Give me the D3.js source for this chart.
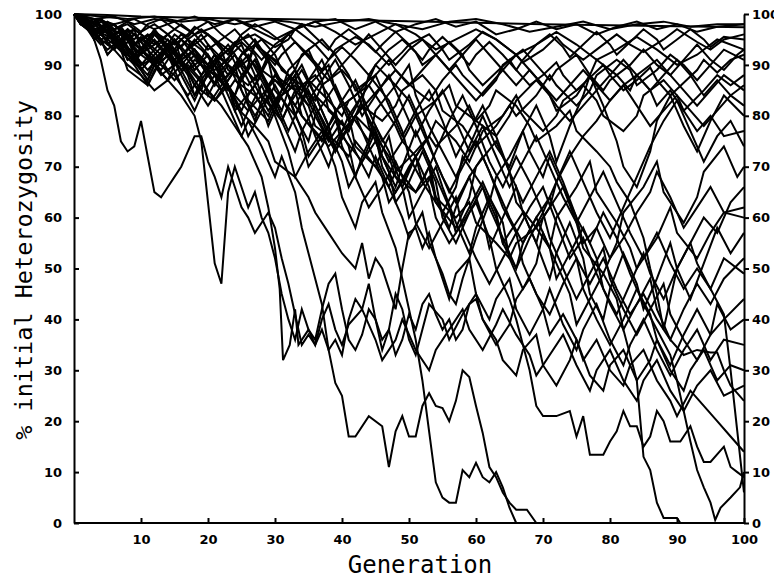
<!doctype html>
<html lang='en'>
<head>
    <meta charset='utf-8'>
    <title>Heterozygosity</title>
    <script src='https://cdn.jsdelivr.net/npm/d3@7'></script>
    <style>
        body { margin: 0; background: white; }
        .run { fill: none; stroke: black; stroke-width: 2px; stroke-linejoin: miter; }
        .axis path, .axis line { stroke: black; stroke-width: 2px; }
        .axis text { font-family: 'DejaVu Sans'; font-weight: bold; font-size: 13px; fill: black; }
        .title { font-family: 'DejaVu Sans Mono'; font-size: 24px; fill: black; }
    </style>
</head>
<body>
<svg id='chart' width='774' height='578'></svg>
<script>
    // each run: [generation, % initial heterozygosity]
    const run01 = [[0,100],[5,99.8],[10,99.5],[20,99.2],[30,99],[40,98.8],[50,98.6],[60,98.3],[70,98],[80,97.8],[90,97.6],[100,97.4]];
    const run02 = [[0,100],[3,99],[6,99.5],[9,98],[12,99],[15,98.5],[18,99.5],[21,98],[24,99],[27,97.5],[30,98.5],[33,97],[36,98.5],[39,99],[42,97],[45,98.5],[48,96.5],[51,98],[54,99],[57,97.5],[60,98.5],[63,96],[66,97],[69,98.5],[72,97],[75,98],[78,96],[81,97.5],[84,98.5],[87,97],[90,98],[93,96.5],[96,97.5],[100,98]];
    const run03 = [[0,100],[1,99],[3,97.5],[4,98.5],[7,96],[9,97],[11,95],[12,96.5],[15,94],[17,96],[18,97.5],[21,95],[23,93],[24,94.5],[27,96],[30,93.5],[32,95],[33,97],[36,94],[38,91],[39,93],[42,95.5],[44,94],[47,90],[49,92.5],[50,94],[53,96],[55,93],[56,91],[59,94],[61,96.5],[63,95],[66,92],[67,90.5],[70,93],[72,95.5],[73,94],[76,91],[78,93],[81,96],[83,94],[85,92.5],[88,95],[90,97],[93,94.5],[95,93],[97,95],[100,96]];
    const run04 = [[0,100],[2,98.5],[3,99],[5,96.5],[7,97.5],[9,94],[10,95.5],[13,92],[15,94.5],[16,96],[19,93],[21,90],[22,92],[25,94.5],[27,92],[28,89],[31,86],[33,89],[34,92],[37,95],[39,92],[41,88],[42,85],[45,88],[47,91],[48,89],[51,85],[53,83],[55,87],[57,90],[58,88],[61,84],[63,87],[64,90],[67,93],[69,90],[71,87],[72,89],[75,92],[77,88],[79,85],[80,87],[83,90],[85,93],[87,90],[89,88],[91,91],[93,94],[95,91],[97,89],[99,92],[100,93]];
    const run05 = [[0,100],[1,98],[3,96],[4,97.5],[6,95],[8,92],[9,94],[12,96.5],[14,93],[15,91],[18,94],[20,96],[22,93],[23,89],[26,86],[28,89],[29,92],[32,88],[34,85],[35,87],[38,83],[40,80],[41,83],[44,86],[46,82],[48,78],[49,75],[51,72],[53,76],[54,79],[57,75],[59,71],[60,74],[63,78],[65,82],[66,80],[69,84],[71,88],[72,86],[75,82],[77,85],[78,88],[81,91],[83,89],[84,86],[87,89],[89,92],[91,90],[93,87],[95,90],[97,93],[100,91]];
    const run06 = [[0,100],[2,98],[3,96],[5,97],[7,94],[8,91],[10,93],[12,90],[13,88],[16,91],[18,93],[19,90],[22,87],[24,89],[25,92],[28,95],[30,92],[31,89],[34,86],[36,83],[37,86],[40,89],[42,86],[43,82],[46,79],[48,82],[49,85],[52,88],[54,85],[55,81],[58,78],[60,74],[61,77],[64,80],[66,84],[67,81],[70,77],[72,80],[73,83],[76,86],[78,83],[79,80],[82,77],[84,80],[85,84],[88,87],[90,84],[91,81],[94,85],[96,88],[98,86],[100,88]];
    const run07 = [[0,100],[1,99],[3,97],[5,98],[6,95],[9,92],[11,94],[12,96],[15,93],[17,89],[18,91],[21,88],[23,85],[24,87],[27,84],[29,80],[30,83],[33,86],[35,82],[36,78],[39,75],[41,72],[42,75],[45,70],[47,66],[48,69],[51,73],[53,76],[54,74],[57,78],[59,82],[60,79],[63,76],[65,80],[66,83],[69,87],[71,84],[72,81],[75,84],[77,88],[78,91],[81,88],[83,85],[84,88],[87,91],[89,88],[91,85],[93,82],[95,85],[97,88],[100,85]];
    const run08 = [[0,100],[2,99],[3,97],[6,98],[8,95],[9,92],[12,96],[14,93],[15,90],[18,95],[20,92],[21,88],[24,84],[26,90],[27,94],[30,89],[32,84],[33,80],[35,86],[38,90],[39,85],[42,79],[44,75],[45,81],[48,86],[50,90],[51,84],[53,78],[55,73],[57,68],[59,74],[61,80],[63,74],[65,70],[67,77],[69,82],[71,76],[72,71],[74,78],[76,84],[77,88],[79,82],[81,75],[82,70],[84,66],[86,73],[87,79],[89,84],[91,78],[93,73],[95,79],[97,84],[100,80]];
    const run09 = [[0,100],[1,98],[3,99],[5,96.5],[6,94],[9,96],[11,93],[12,90],[15,92.5],[17,95],[18,92],[21,89],[23,91],[24,94],[27,90],[29,86],[30,88],[33,85],[35,82],[36,84],[39,80],[41,77],[42,80],[45,76],[47,72],[48,68],[51,65],[53,68],[54,64],[57,60],[59,63],[60,59],[63,55],[65,52],[66,55],[69,58],[71,62],[72,67],[74,72],[76,76],[78,79],[80,83],[82,86],[84,88],[86,85],[87,82],[89,85],[91,81],[93,77],[95,80],[97,76],[100,77]];
    const run10 = [[0,100],[2,98],[3,95],[5,97],[7,93],[8,89],[11,86],[13,91],[14,94],[17,89],[19,85],[20,89],[23,93],[25,88],[26,83],[29,79],[31,85],[32,89],[35,93],[37,87],[38,81],[41,77],[43,83],[44,88],[47,83],[49,77],[50,72],[52,67],[54,73],[56,79],[58,84],[60,78],[62,71],[64,66],[66,72],[68,67],[70,61],[72,67],[74,73],[76,67],[78,61],[80,56],[82,62],[84,68],[86,74],[88,79],[90,83],[92,77],[94,71],[96,76],[98,79],[100,74]];
    const run11 = [[0,100],[1,99],[3,96],[4,97.5],[7,94],[9,97],[10,93],[13,89],[15,93],[16,95],[19,90],[21,86],[22,90],[25,94],[27,88],[28,84],[31,79],[33,85],[34,80],[37,75],[39,81],[40,76],[43,71],[45,77],[46,72],[49,66],[51,72],[52,67],[55,61],[57,66],[58,72],[61,66],[63,60],[64,55],[67,61],[69,55],[70,60],[73,66],[75,59],[76,54],[79,49],[81,55],[82,61],[85,66],[87,71],[88,65],[91,59],[93,64],[94,69],[97,74],[99,68],[100,70]];
    const run12 = [[0,100],[2,98.5],[3,97],[6,95],[8,97],[9,94],[12,91],[14,94],[15,96],[18,93],[20,90],[21,92],[24,89],[26,91],[27,94],[30,91],[32,88],[33,85],[36,88],[38,84],[39,81],[42,84],[44,87],[45,90],[48,86],[50,83],[51,80],[54,83],[56,86],[57,82],[60,79],[62,82],[63,85],[66,82],[68,78],[69,75],[72,78],[74,81],[75,77],[78,73],[80,70],[81,67],[83,63],[85,56],[86,50],[87,45],[88,38],[89,44],[90,50],[92,55],[94,60],[96,57],[98,63],[100,66]];
    const run13 = [[0,100],[1,98],[3,96],[5,97.5],[6,94],[9,90],[11,95],[12,97],[15,92],[17,88],[18,84],[21,90],[23,86],[24,81],[27,86],[29,91],[30,85],[33,80],[35,75],[36,80],[39,86],[41,80],[42,74],[45,70],[47,76],[48,70],[51,65],[53,70],[54,63],[57,58],[59,64],[60,70],[63,75],[65,69],[66,63],[69,58],[71,54],[72,60],[75,66],[77,71],[78,65],[81,59],[83,54],[84,50],[87,56],[89,62],[90,57],[93,52],[95,57],[97,61],[100,62]];
    const run14 = [[0,100],[2,98],[3,96],[5,93],[7,95],[8,97],[11,94],[13,91],[14,89],[17,92],[19,88],[20,84],[22,89],[24,92],[26,87],[28,82],[29,78],[31,84],[33,88],[34,83],[36,76],[38,70],[39,74],[41,80],[43,84],[44,78],[46,72],[48,66],[49,70],[51,77],[53,71],[54,64],[56,58],[57,62],[59,68],[61,60],[62,54],[64,60],[66,66],[67,61],[69,55],[71,48],[72,53],[74,59],[76,52],[77,45],[79,40],[80,46],[82,53],[84,47],[85,42],[87,48],[89,55],[90,50],[92,44],[94,51],[96,58],[98,53],[100,57]];
    const run15 = [[0,100],[1,98],[3,97],[4,95],[7,96.5],[9,93],[10,90],[13,92],[15,95],[16,91],[18,86],[20,82],[22,86],[24,90],[25,85],[27,79],[28,83],[30,88],[32,84],[34,77],[35,72],[37,76],[39,80],[40,74],[42,68],[43,72],[45,78],[47,73],[49,66],[50,60],[52,65],[54,70],[55,66],[57,59],[59,53],[60,58],[62,64],[64,59],[65,52],[67,46],[69,51],[70,57],[72,51],[74,45],[75,39],[77,44],[79,49],[81,44],[82,38],[84,43],[86,48],[87,42],[89,36],[91,42],[93,47],[95,43],[97,48],[100,52]];
    const run16 = [[0,100],[2,99],[3,97],[6,94],[8,96],[9,93],[12,90],[14,87],[15,90],[18,93],[20,89],[21,86],[23,90],[25,85],[27,80],[29,84],[31,79],[33,73],[34,77],[36,82],[38,77],[40,71],[41,66],[43,71],[45,75],[47,69],[48,63],[50,67],[52,73],[54,67],[55,60],[57,55],[59,61],[61,66],[62,62],[64,56],[66,50],[67,55],[69,60],[71,54],[72,48],[74,53],[76,58],[78,52],[79,46],[81,41],[83,47],[85,53],[86,49],[88,44],[90,50],[92,55],[93,51],[95,46],[97,52],[100,49]];
    const run17 = [[0,100],[1,98],[3,96],[5,97],[6,94],[9,91],[11,88],[12,91],[15,88],[17,84],[19,88],[21,92],[23,86],[25,80],[26,76],[28,81],[30,86],[32,81],[34,75],[35,70],[37,74],[39,79],[41,74],[42,68],[44,62],[46,66],[48,71],[50,65],[51,59],[53,54],[55,59],[57,64],[58,58],[60,52],[62,47],[64,52],[66,57],[67,51],[69,45],[71,41],[73,47],[75,52],[76,46],[78,40],[80,35],[82,40],[84,46],[86,41],[87,36],[89,31],[91,37],[93,42],[95,37],[97,40],[100,44]];
    const run18 = [[0,100],[2,97],[3,95],[5,97],[7,94],[8,91],[11,93],[13,95],[14,92],[17,89],[19,91],[20,94],[23,90],[25,87],[27,91],[29,86],[31,81],[32,85],[34,89],[36,84],[38,78],[39,73],[41,78],[43,82],[45,76],[46,70],[48,65],[50,70],[52,74],[54,68],[56,62],[57,57],[59,62],[61,67],[63,61],[64,55],[66,50],[68,56],[70,61],[71,56],[73,50],[75,44],[77,49],[79,54],[80,48],[82,42],[84,37],[86,42],[88,47],[89,41],[91,36],[93,32],[95,37],[96,43],[98,38],[100,40]];
    const run19 = [[0,100],[1,99],[3,96],[5,97.5],[6,94],[9,91],[11,94],[12,96],[15,92],[17,89],[18,86],[21,83],[23,86],[24,82],[27,78],[29,75],[30,71],[33,68],[35,64],[36,61],[38,57],[40,53],[42,50],[43,55],[44,48],[45,52],[46,50],[47,46],[48,42],[49,50],[50,57],[51,58],[52,54],[53,57],[54,52],[55,48],[56,44],[57,49],[59,52],[60,45],[62,40],[63,44],[65,48],[66,42],[68,37],[70,42],[71,46],[73,39],[75,34],[76,38],[78,43],[80,36],[82,31],[83,35],[85,40],[87,34],[89,29],[91,34],[93,38],[95,32],[97,36],[100,35]];
    const run20 = [[0,100],[1,99],[2,98],[3,95],[4,91],[5,85],[6,82],[7,75],[8,73],[9,74],[10,79],[11,72],[12,65],[13,64],[14,66],[15,68],[16,70],[17,73],[18,76],[19,76],[20,71],[21,68],[22,64],[23,70],[24,66],[25,62],[26,60],[27,57],[28,59],[29,61],[30,58],[31,52],[32,47],[33,41],[34,35],[35,37],[36,35],[37,38],[38,34],[39,36],[40,33],[41,40],[42,44],[43,42],[44,47],[45,40],[46,36],[47,38],[48,33],[49,36],[50,41],[51,38],[52,43],[53,45],[54,41],[55,38],[56,40],[57,36],[58,38],[59,43],[60,44],[61,40],[63,36],[64,32],[66,29],[67,34],[69,37],[70,31],[72,27],[74,32],[75,36],[77,29],[79,26],[80,31],[82,34],[84,28],[86,32],[87,36],[89,30],[91,26],[92,30],[94,34],[96,28],[98,31],[100,30]];
    const run21 = [[0,100],[2,98],[4,95],[6,93],[8,90],[10,88],[12,85],[14,87],[16,84],[18,80],[19,75],[20,63],[21,51],[22,47],[23,65],[24,70],[25,66],[26,62],[27,65],[28,60],[29,57],[30,52],[31,45],[32,40],[33,36],[34,42],[35,38],[36,35],[37,40],[38,43],[39,38],[40,35],[41,39],[43,42],[45,36],[46,32],[48,36],[49,40],[51,34],[53,30],[54,34],[56,38],[58,42],[59,38],[61,34],[63,39],[64,42],[66,37],[68,33],[69,29],[71,33],[73,37],[75,31],[77,26],[78,30],[80,34],[82,28],[84,24],[85,28],[87,32],[89,26],[91,22],[93,27],[95,30],[97,25],[100,27]];
    const run22 = [[0,100],[2,97],[4,94],[6,96],[8,92],[10,89],[12,92],[14,95],[16,91],[18,88],[20,85],[22,82],[24,78],[26,74],[28,68],[29,62],[30,54],[30.7,46],[31.2,32],[32.2,35],[33,42],[33.5,35],[35,38],[36,36],[37,42],[38,47],[39,49],[40,42],[41,36],[42,34],[43,37],[44,42],[45,40],[46,34],[47,38],[48,45],[49,42],[50,36],[51,33],[52,38],[53,43],[55,40],[56,36],[58,41],[60,45],[61,40],[63,35],[65,39],[66,44],[68,48],[70,42],[71,37],[73,41],[75,36],[76,32],[78,36],[80,30],[82,27],[83,31],[85,34],[87,28],[89,24],[90,21],[92,26],[94,23],[96,20],[98,17],[100,14]];
    const run23 = [[0,100],[2,98],[4,95],[5,92],[7,95],[9,90],[11,86],[12,89],[14,92],[16,86],[18,81],[19,84],[21,88],[23,82],[25,76],[26,79],[28,74],[30,68],[31,72],[33,65],[34,58],[35,53],[36,48],[37,43],[38,34],[39,27.5],[40,25],[41,17],[42,17],[44,21],[46,19],[47,11],[48,18],[49,21],[50,17],[51,17],[52,23],[53,25.5],[54,23],[55,22.6],[56,20],[57,24],[58,30],[59,28.7],[60,23],[61,17.7],[62,11],[63,9],[64,6],[65,4],[66,2.6],[67.6,2.6],[69,0]];
    const run24 = [[0,100],[2,99],[4,97],[5,94],[7,96],[9,91],[11,87],[12,90],[14,93],[16,88],[18,83],[19,86],[21,90],[23,84],[25,78],[26,81],[28,86],[30,80],[32,73],[33,68],[35,73],[37,77],[39,70],[40,64],[42,58],[43,63],[45,67],[46,61],[48,54],[49,48],[50,42],[51,36],[52,28],[53,18],[54,8],[55,5],[56,4],[57,4],[58,10.4],[59,9],[60,11.8],[61,9],[62,8],[63,10],[64,7],[65,3],[66,0]];
    const run25 = [[0,100],[2,98],[4,96],[6,98],[8,95],[10,92],[12,95],[14,92],[16,89],[18,92],[20,88],[22,85],[24,89],[26,92],[28,87],[30,82],[32,86],[34,90],[36,84],[38,78],[40,83],[42,87],[44,81],[46,75],[48,79],[50,84],[52,78],[54,71],[56,65],[58,70],[60,75],[62,69],[64,62],[66,57],[68,62],[70,66],[72,59],[74,52],[76,56],[78,49],[80,43],[82,38],[83,33],[84,28],[85,13],[86,10.4],[87,4],[88,1],[89,1],[90,1],[90.5,0]];
    const run26 = [[0,100],[2,97],[4,95],[5,92],[7,95],[9,91],[11,87],[12,90],[14,93],[16,89],[18,84],[19,87],[21,91],[23,86],[25,81],[26,84],[28,88],[30,83],[32,77],[33,80],[35,85],[37,79],[39,73],[40,76],[42,80],[44,74],[46,68],[47,63],[49,67],[51,72],[53,66],[54,60],[56,55],[58,59],[60,63],[62,56],[63,50],[65,44],[66,40],[67,35],[68,30],[69,23],[70,21],[72,21],[74,22],[75,17],[76,21],[77,13.4],[79,13.4],[80,16],[81,18],[82,22],[83,19],[84,19],[85,15],[86,17],[87,22],[88,20],[89,16],[90.5,16],[92,19],[93,15],[94,12],[95,12],[97,15],[98,11],[99,10],[100,9]];
    const run27 = [[0,100],[1,99],[3,97],[5,95],[7,97],[9,94],[11,96],[13,93],[15,90],[17,93],[19,96],[21,92],[23,88],[25,92],[27,95],[29,91],[31,86],[33,82],[35,87],[37,91],[39,85],[41,79],[43,84],[45,88],[47,82],[49,76],[51,81],[53,85],[55,79],[57,72],[59,77],[61,82],[63,76],[65,69],[67,63],[69,68],[71,73],[73,67],[75,60],[77,55],[79,61],[81,56],[83,49],[85,43],[87,38],[89,33],[90,28],[91,22],[92,16],[93,10.4],[94,7],[95,4],[95.7,0.6],[96.5,3],[98,5],[99.4,7],[100,10]];
    const run28 = [[0,100],[1,98],[3,99],[5,96],[7,93],[9,96],[11,93],[13,90],[15,87],[17,90],[19,87],[21,83],[23,87],[25,91],[27,86],[29,81],[31,85],[33,89],[35,84],[37,78],[39,73],[41,78],[43,82],[45,77],[47,71],[49,75],[51,80],[53,74],[55,68],[57,63],[59,68],[61,72],[63,66],[65,60],[67,55],[69,60],[71,64],[73,58],[75,52],[77,47],[79,52],[81,46],[83,41],[85,45],[87,40],[89,36],[91,33],[93,34],[95,33.5],[96,33.5],[97,30],[98,27],[100,24]];
    const run29 = [[0,100],[1,99],[3,96],[5,98],[7,95],[9,92],[11,89],[13,92],[15,95],[17,92],[19,88],[21,91],[23,94],[25,90],[27,87],[29,91],[31,94],[33,89],[35,83],[37,87],[39,91],[41,86],[43,80],[45,84],[47,88],[49,82],[51,76],[53,81],[55,85],[57,79],[59,73],[61,78],[63,72],[65,66],[67,71],[69,76],[71,70],[73,64],[75,59],[77,64],[79,69],[81,63],[83,57],[85,52],[87,57],[89,51],[91,46],[93,50],[95,46],[97,41],[98,30],[99,18],[100,6]];
    const run30 = [[0,100],[2,98],[4,99],[6,97],[8,98],[10,96],[12,94],[14,96],[16,98],[18,96],[20,93],[22,95],[24,97],[26,94],[28,91],[30,94],[32,96],[34,93],[36,90],[38,87],[40,90],[42,93],[44,96],[46,93],[48,90],[50,93],[52,95],[54,92],[56,89],[58,92],[60,95],[62,92],[64,89],[66,86],[68,89],[70,86],[72,83],[74,86],[76,89],[78,86],[80,83],[82,86],[84,82],[86,78],[88,81],[90,84],[92,81],[94,78],[96,81],[98,84],[100,82]];
    const run31 = [[0,100],[3,99],[6,98],[9,99],[12,97],[15,98.5],[18,96],[21,97.5],[24,99],[27,97],[30,95],[33,97],[36,98.5],[39,96.5],[42,94],[45,96],[48,98],[51,96],[54,93],[57,95],[60,97],[63,95],[66,92],[69,94],[72,96.5],[75,94],[78,91],[81,93],[84,95.5],[87,93],[90,90],[93,92],[96,95],[100,93]];
    const run32 = [[0,100],[2,97],[4,99],[6,96],[8,93],[10,90],[12,93],[14,96],[16,93],[18,89],[20,92],[22,88],[24,84],[25,88],[27,91],[29,85],[31,79],[32,82],[34,86],[36,80],[38,75],[40,79],[42,73],[44,68],[45,72],[47,66],[49,60],[50,56],[52,61],[53,55],[55,49],[56,45],[57,43],[58,48],[60,56],[62,63],[63,68],[65,72],[67,77],[68,73],[70,68],[71,72],[73,66],[75,60],[76,55],[78,58],[80,52],[82,56],[84,61],[86,65],[87,69],[89,64],[91,58],[93,62],[95,66],[97,61],[100,60]];
    const run33 = [[0,100],[4,99.5],[8,99],[12,99.5],[16,98.5],[20,99],[24,98],[28,99],[32,98.5],[36,97.5],[40,98.5],[44,99],[48,98],[52,97],[56,98.5],[60,99],[64,98],[68,96.5],[72,97.5],[76,98.5],[80,97],[84,98],[88,98.5],[92,97.5],[96,98],[100,98]];
    const run34 = [[0,100],[2,98],[4,96],[6,93],[8,96],[10,93],[12,90],[14,87],[16,90],[18,93],[20,90],[22,87],[24,84],[26,81],[28,84],[30,87],[32,84],[34,80],[36,77],[38,74],[40,77],[42,80],[44,83],[46,86],[48,89],[50,86],[52,89],[54,92],[56,89],[58,86],[60,83],[62,86],[64,89],[66,92],[68,89],[70,86],[72,82],[74,79],[76,82],[78,85],[80,88],[82,91],[84,88],[86,85],[88,88],[90,91],[92,88],[94,84],[96,87],[98,84],[100,86]];
    const run35 = [[0,100],[1,99.5],[3,98],[4,99],[6,97],[8,98.5],[10,96.5],[11,98],[13,99],[15,97],[17,95.5],[18,97],[20,98.5],[22,96],[24,94],[25,96],[27,98],[29,96.5],[31,94.5],[32,96],[34,98],[36,95.5],[38,93],[39,95],[41,97],[43,95],[45,92.5],[46,94],[48,96.5],[50,94],[52,91],[53,93],[55,95.5],[57,93],[59,90],[60,92],[62,94.5],[64,92],[66,89],[67,91],[69,94],[71,96],[73,93.5],[74,91.5],[76,94],[78,96.5],[80,94],[81,92],[83,94.5],[85,97],[87,95],[88,93],[90,95],[92,97],[94,95],[95,93.5],[97,95.5],[100,95]];
    const run36 = [[0,100],[2,99],[4,97.5],[5,98.5],[7,97],[9,95],[10,96.5],[12,98],[14,96],[16,93.5],[17,95],[19,97],[21,95],[23,92],[24,94],[26,96],[28,93],[30,90],[31,92],[33,94.5],[35,92],[37,89],[38,91],[40,93.5],[42,91],[44,88],[45,90],[47,93],[49,95],[51,92.5],[52,90],[54,92],[56,94.5],[58,92],[59,89],[61,86],[63,88.5],[65,91],[66,89],[68,86],[70,88],[72,90.5],[73,88],[75,85],[77,87.5],[79,90],[80,88],[82,85],[84,87],[86,89.5],[87,87],[89,84],[91,86.5],[93,89],[94,91],[96,88.5],[98,91],[100,92]];

    const runs = [run01, run02, run03, run04, run05, run06, run07, run08, run09, run10,
        run11, run12, run13, run14, run15, run16, run17, run18, run19, run20,
        run21, run22, run23, run24, run25, run26, run27, run28, run29, run30,
        run31, run32, run33, run34, run35, run36];

    const yTicks = [0, 10, 20, 30, 40, 50, 60, 70, 80, 90, 100];
    const xTicks = [10, 20, 30, 40, 50, 60, 70, 80, 90, 100];

    const plotLeft = 74, plotRight = 744, plotTop = 14, plotBottom = 523;

    const x = d3.scaleLinear().domain([0, 100]).range([plotLeft, plotRight]);
    const y = d3.scaleLinear().domain([0, 100]).range([plotBottom, plotTop]);

    const svg = d3.select('#chart');

    const line = d3.line()
        .x(d => x(d[0]))
        .y(d => y(d[1]));

    svg.append('g')
        .selectAll('path')
        .data(runs)
        .enter()
        .append('path')
        .attr('class', 'run')
        .attr('d', line);

    // left axis, ticks point inward
    svg.append('g')
        .attr('class', 'axis')
        .attr('transform', `translate(${plotLeft},0)`)
        .call(d3.axisLeft(y).tickValues(yTicks).tickSizeInner(-5).tickSizeOuter(0).tickPadding(12));

    // right axis, ticks point out
    svg.append('g')
        .attr('class', 'axis')
        .attr('transform', `translate(${plotRight},0)`)
        .call(d3.axisRight(y).tickValues(yTicks).tickSizeInner(5).tickSizeOuter(0).tickPadding(3));

    const xAxis = svg.append('g')
        .attr('class', 'axis')
        .attr('transform', `translate(0,${plotBottom})`)
        .call(d3.axisBottom(x).tickValues(xTicks).tickSizeInner(-5).tickSizeOuter(0).tickPadding(12));
    xAxis.select('.domain').attr('d', `M${plotLeft},0H${plotRight}`);

    svg.append('text')
        .attr('class', 'title')
        .attr('x', 420)
        .attr('y', 573)
        .attr('text-anchor', 'middle')
        .text('Generation');

    svg.append('text')
        .attr('class', 'title')
        .attr('transform', 'translate(32,270) rotate(-90)')
        .attr('text-anchor', 'middle')
        .style('font-size', '23.5px')
        .text('% initial Heterozygosity');
</script>
</body>
</html>
